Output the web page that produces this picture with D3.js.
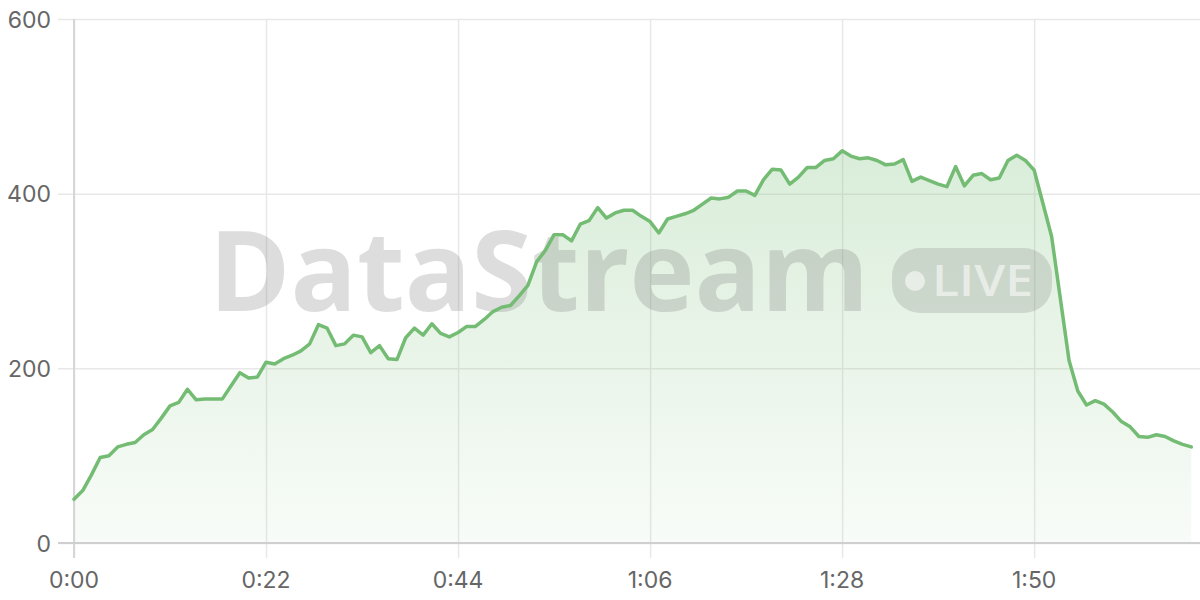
<!DOCTYPE html>
<html>
<head>
<meta charset="utf-8">
<script src="https://cdn.jsdelivr.net/npm/d3@7"></script>
<style>
  html, body { margin: 0; padding: 0; background: #fff; }
  svg { display: block; }
</style>
</head>
<body>
<svg id="chart" width="1200" height="600"></svg>
<script>
// Values sampled once per second (0:00 .. 2:08)
const values = [
  50, 60, 78, 98, 100, 110, 113, 115, 124, 130,
  143, 157, 161, 176, 164, 165, 165, 165, 180, 195,
  189, 190, 207, 205, 211, 215, 220, 228, 250, 246,
  226, 228, 238, 236, 218, 226, 211, 210, 235, 246,
  238, 251, 240, 236, 241, 248, 248, 256, 265, 270,
  272, 283, 295, 322, 335, 353, 353, 346, 365, 369,
  384, 372, 378, 381, 381, 374, 368, 355, 371, 374,
  377, 381, 388, 395, 394, 396, 403, 403, 398, 416,
  428, 427, 411, 419, 430, 430, 438, 440, 449, 443,
  440, 441, 438, 433, 434, 439, 414, 419, 415, 411,
  408, 431, 409, 421, 423, 416, 418, 438, 444, 438,
  427, 389, 351, 280, 209, 174, 158, 163, 159, 150,
  139, 133, 122, 121, 124, 122, 117, 113, 110
];
const seconds = values.map((v, i) => i);
const xTickSeconds = [0, 22, 44, 66, 88, 110];
const yTicks = [0, 200, 400, 600];
const watermarkText = "DataStream";
const badgeText = "LIVE";

const fmtTime = s => Math.floor(s / 60) + ":" + String(s % 60).padStart(2, "0");

(function () {
const svg = d3.select("#chart");
const mLeft = 74, mRight = 1200, mTop = 19, mBottom = 543;

const x = d3.scaleLinear().domain([0, 129]).range([mLeft, mRight]);
const y = d3.scaleLinear().domain([0, 600]).range([mBottom, mTop]);

const data = values.map((v, i) => ({ t: seconds[i], v }));

// gradient
const defs = svg.append("defs");
const grad = defs.append("linearGradient")
  .attr("id", "areaGrad")
  .attr("gradientUnits", "userSpaceOnUse")
  .attr("x1", 0).attr("x2", 0)
  .attr("y1", y(d3.max(values))).attr("y2", y(0));
grad.append("stop").attr("offset", "0%").attr("stop-color", "rgb(116,188,116)").attr("stop-opacity", 0.27);
grad.append("stop").attr("offset", "100%").attr("stop-color", "rgb(116,188,116)").attr("stop-opacity", 0.05);

// grid - horizontal
const gy = svg.append("g")
  .attr("transform", `translate(${mLeft},0)`)
  .call(d3.axisLeft(y).tickValues(yTicks).tickSize(0).tickFormat(""));
gy.select(".domain").remove();
gy.selectAll(".tick line").attr("stroke", "#e8e8e8").attr("stroke-width", 1.5)
  .attr("x1", -16).attr("x2", mRight - mLeft);

// grid - vertical
const gx = svg.append("g")
  .attr("transform", `translate(0,${mBottom})`)
  .call(d3.axisBottom(x).tickValues(xTickSeconds).tickSize(0).tickFormat(""));
gx.select(".domain").remove();
gx.selectAll(".tick line").attr("stroke", "#e8e8e8").attr("stroke-width", 1.5)
  .attr("y1", 15).attr("y2", mTop - mBottom);

// area
const area = d3.area().x(d => x(d.t)).y0(y(0)).y1(d => y(d.v));
svg.append("path").datum(data).attr("d", area).attr("fill", "url(#areaGrad)");

// axes lines
svg.append("line").attr("x1", mLeft).attr("x2", mLeft).attr("y1", mTop).attr("y2", mBottom + 15)
  .attr("stroke", "#d6d6d6").attr("stroke-width", 2);
svg.append("line").attr("x1", mLeft - 16).attr("x2", mRight).attr("y1", mBottom).attr("y2", mBottom)
  .attr("stroke", "#cfcfcf").attr("stroke-width", 2);

// watermark
const wm = svg.append("g").attr("pointer-events", "none");
wm.append("text")
  .attr("x", 209).attr("y", 311)
  .attr("font-family", "'Open Sans', 'Noto Sans', sans-serif")
  .attr("font-weight", 700)
  .attr("font-size", 112)
  .attr("textLength", 660)
  .attr("lengthAdjust", "spacingAndGlyphs")
  .attr("fill", "rgba(120,120,120,0.25)")
  .text(watermarkText);
wm.append("rect")
  .attr("x", 892).attr("y", 248).attr("width", 160).attr("height", 65)
  .attr("rx", 28).attr("ry", 28)
  .attr("fill", "rgba(120,120,120,0.22)");
wm.append("circle").attr("cx", 915).attr("cy", 281).attr("r", 10)
  .attr("fill", "rgba(255,255,255,0.55)");
wm.append("text")
  .attr("x", 932).attr("y", 296)
  .attr("font-family", "'Open Sans', 'Noto Sans', sans-serif")
  .attr("font-weight", 600)
  .attr("font-size", 44)
  .attr("textLength", 101)
  .attr("lengthAdjust", "spacingAndGlyphs")
  .attr("fill", "rgba(255,255,255,0.55)")
  .text(badgeText);

// line
const line = d3.line().x(d => x(d.t)).y(d => y(d.v));
svg.append("path").datum(data).attr("d", line)
  .attr("fill", "none").attr("stroke", "#74bc74").attr("stroke-width", 3.5)
  .attr("stroke-linejoin", "round").attr("stroke-linecap", "round");

// labels
const labelFont = "Inter, 'Liberation Sans', sans-serif";
svg.append("g").selectAll("text").data(yTicks).join("text")
  .attr("x", 51).attr("y", d => y(d) + 8.5)
  .attr("text-anchor", "end")
  .attr("font-family", labelFont).attr("font-size", 23).attr("fill", "#666")
  .text(d => d);
svg.append("g").selectAll("text").data(xTickSeconds).join("text")
  .attr("x", d => x(d)).attr("y", 588)
  .attr("text-anchor", "middle")
  .attr("font-family", labelFont).attr("font-size", 23).attr("fill", "#666")
  .text(d => fmtTime(d));
})();
</script>
</body>
</html>
